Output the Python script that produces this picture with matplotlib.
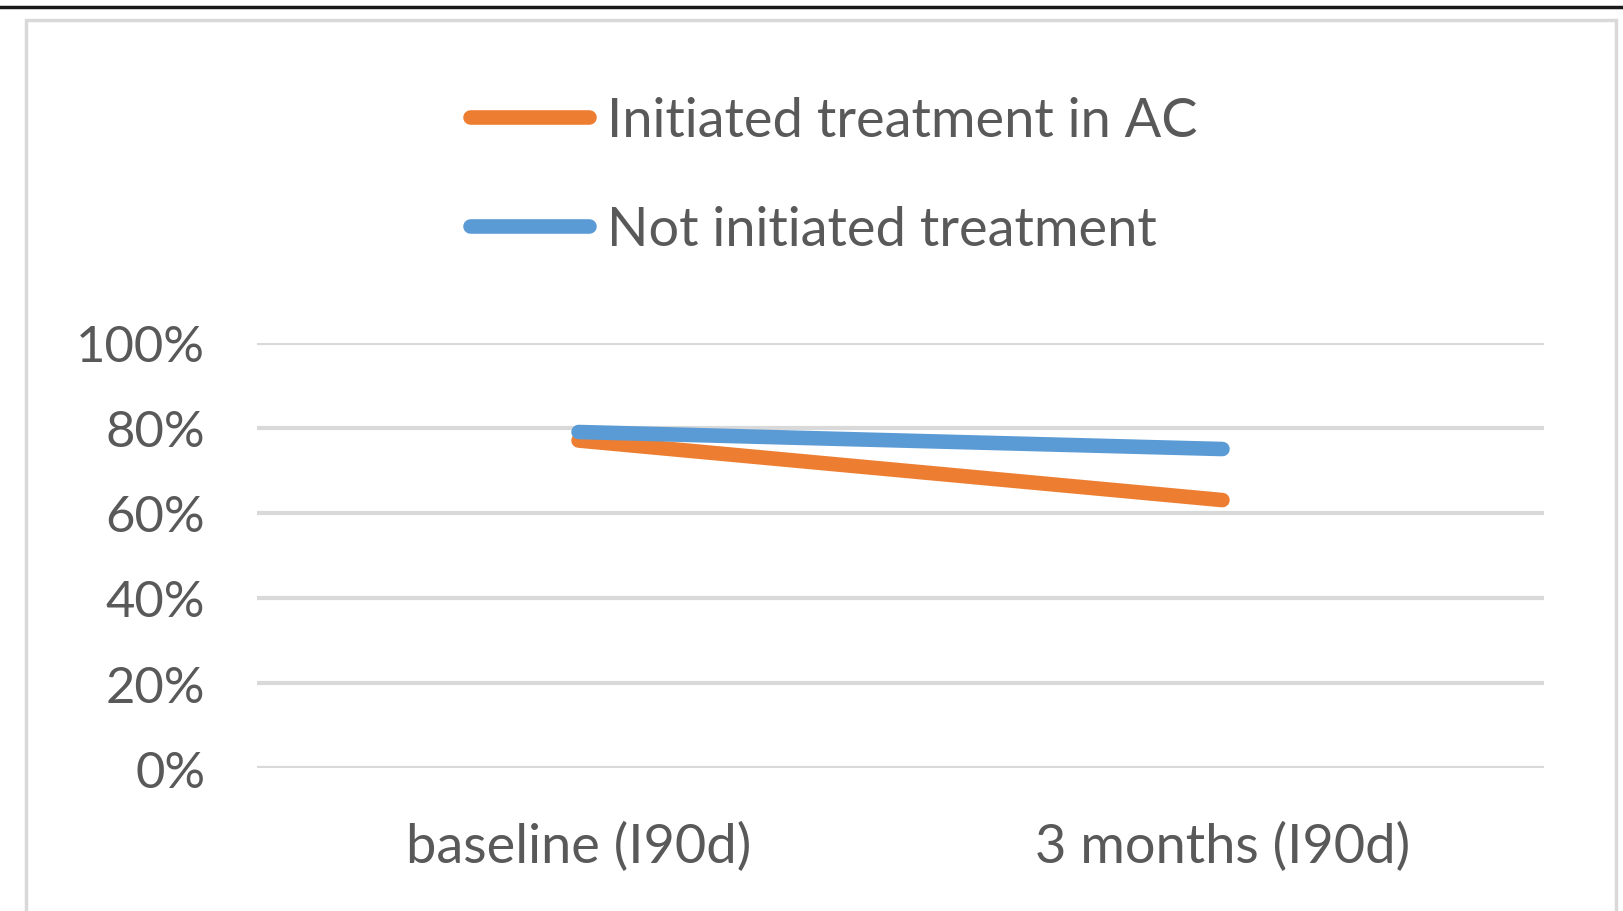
import matplotlib
matplotlib.use("Agg")
import matplotlib.pyplot as plt
from matplotlib.lines import Line2D
from matplotlib.patches import Rectangle
from matplotlib.ticker import PercentFormatter

categories = ["baseline (I90d)", "3 months (I90d)"]
initiated = [77, 63]
not_initiated = [79, 75]
series_names = ["Initiated treatment in AC", "Not initiated treatment"]

ORANGE = "#ED7D31"
BLUE = "#5B9BD5"
GRID = "#D9D9D9"
TEXT = "#595959"

plt.rcParams["font.family"] = ["Lato", "DejaVu Sans"]

fig = plt.figure(figsize=(16.24, 9.12), dpi=100)
ax = fig.add_axes([0.158, 0.1566, 0.793, 0.4666])

# chart frame and the dark rule above it
fig.add_artist(Rectangle((25 / 1568, -0.05), (1560 - 25) / 1568, 1.05 - 20 / 881,
                         transform=fig.transFigure, fill=False, ec=GRID, lw=2.5))
fig.add_artist(Line2D([0, 1], [1 - 8 / 881] * 2, transform=fig.transFigure,
                      color="#1a1a1a", lw=2.5))

x = range(len(categories))
ax.plot(x, initiated, color=ORANGE, lw=10.5, solid_capstyle="round", label=series_names[0])
ax.plot(x, not_initiated, color=BLUE, lw=10.5, solid_capstyle="round", label=series_names[1])

ax.set_xlim(-0.5, len(categories) - 0.5)
ax.set_ylim(0, 100)
ax.set_yticks(range(0, 101, 20))
ax.yaxis.set_major_formatter(PercentFormatter(decimals=0))
ax.set_xticks(list(x))
ax.set_xticklabels(categories)
ax.tick_params(length=0, colors=TEXT)
ax.tick_params(axis="y", pad=37, labelsize=36.5)
ax.tick_params(axis="x", pad=38, labelsize=39)
ax.grid(axis="y", color=GRID, lw=3)
ax.set_axisbelow(True)
for s in ax.spines.values():
    s.set_visible(False)

leg = ax.legend(loc="upper left", bbox_to_anchor=(454 / 1568, 1 - 94 / 881),
                bbox_transform=fig.transFigure, frameon=False, fontsize=39,
                borderpad=0, borderaxespad=0,
                handlelength=2.2, handletextpad=0.33, labelspacing=1.1,
                labelcolor=TEXT)
for h in leg.get_lines():
    h.set_solid_capstyle("round")

fig.savefig("out.png", dpi=100)
